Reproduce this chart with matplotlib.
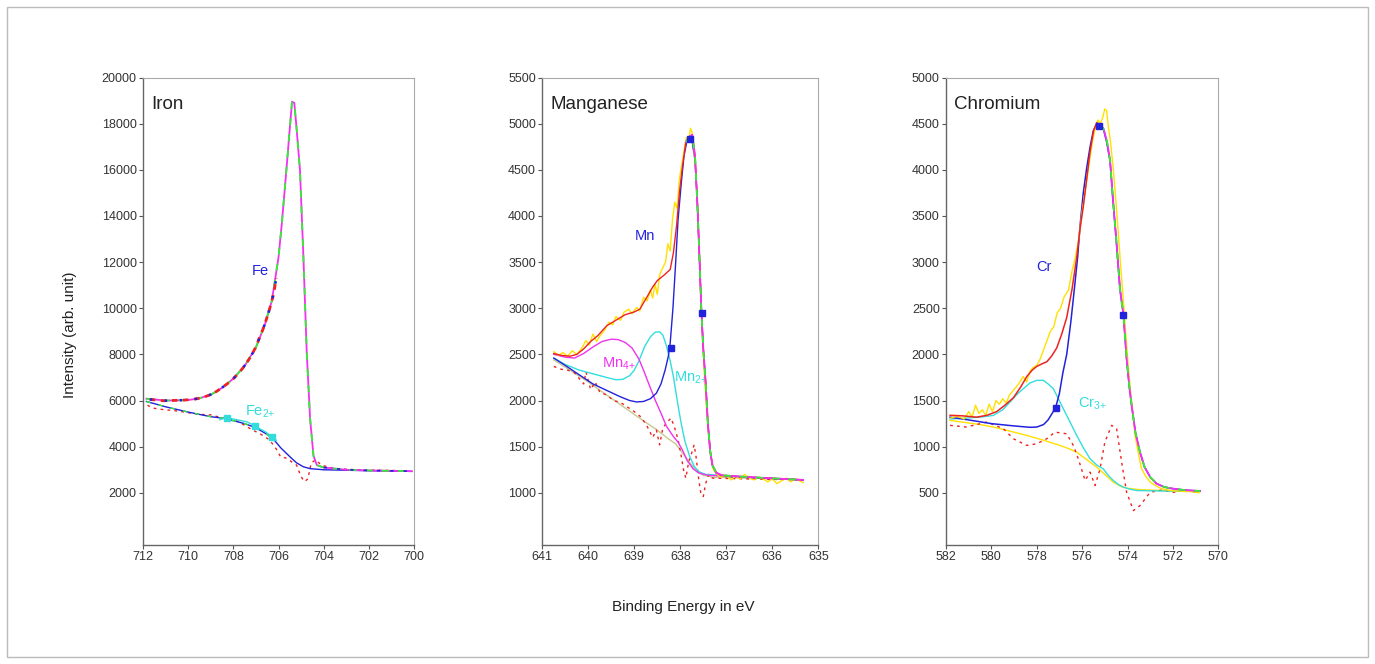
import matplotlib
matplotlib.use('Agg')
import matplotlib.pyplot as plt
from matplotlib.patches import Rectangle

plt.rcParams['font.family'] = ['Liberation Sans', 'DejaVu Sans']

C_MAG = '#ee33ee'
C_GREEN = '#33ee33'
C_BLUE = '#2222dd'
C_CYAN = '#33dddd'
C_YEL = '#ffe000'
C_RED = '#ee2222'
C_BG = '#c8c890'

# ---------------- Iron ----------------
fe_env_x = [711.85, 711.0, 710.0, 709.5, 709.0, 708.5, 708.0, 707.5, 707.0, 706.6, 706.3, 706.0,
            705.85, 705.65, 705.5, 705.4, 705.3, 705.2, 705.05, 704.9, 704.75, 704.6, 704.45,
            704.3, 704.0, 703.0, 702.0, 700.1]
fe_env_y = [6080, 6000, 6020, 6100, 6250, 6550, 6950, 7500, 8300, 9300, 10300, 12200,
            13700, 16000, 17800, 18950, 18900, 17800, 16000, 12300, 8100, 5200, 3600,
            3200, 3100, 3000, 2970, 2940]

fe_bg_x = [711.85, 711.0, 710.0, 709.0, 708.4, 707.5, 707.0, 706.5, 706.2, 705.9, 705.5,
           705.2, 704.9, 704.6, 704.0, 702.0, 700.1]
fe_bg_y = [5960, 5730, 5500, 5300, 5230, 5000, 4820, 4530, 4300, 3950, 3570,
           3300, 3130, 3050, 3000, 2960, 2930]

fe2_x = [708.6, 708.3, 707.9, 707.4, 707.04, 706.8, 706.6, 706.3, 706.1]
fe2_y = [5170, 5260, 5180, 5080, 4900, 4760, 4660, 4440, 4280]
fe2_mark_x = [708.3, 707.04, 706.3]
fe2_mark_y = [5240, 4880, 4440]

fe_res_x = [711.8, 711.6, 711.2, 710.5, 709.5, 709.0, 708.5, 707.8, 707.2, 706.8, 706.4,
            706.1, 705.9, 705.7, 705.5, 705.2, 705.0, 704.85, 704.7, 704.55, 704.35,
            704.1, 703.5, 702.5, 701.5, 700.5]
fe_res_y = [5800, 5680, 5620, 5550, 5400, 5380, 5250, 5100, 4750, 4550, 4300,
            3900, 3550, 3520, 3400, 3200, 2700, 2490, 2600, 3300, 3430,
            3200, 3050, 3000, 2980, 2960]

fe_dat_x = [711.7, 711.4, 711.1, 710.8, 710.5, 710.2, 709.9, 709.6, 709.3, 709.0, 708.75,
            708.5, 708.25, 708.0, 707.8, 707.6, 707.4, 707.2, 707.0, 706.85, 706.7,
            706.55, 706.4, 706.3, 706.2, 706.1]
fe_dat_y = [6050, 6020, 5990, 6000, 6010, 6020, 6040, 6080, 6150, 6260, 6390,
            6560, 6740, 6950, 7150, 7380, 7650, 7950, 8330, 8700, 9060,
            9480, 9950, 10300, 10700, 11300]

# ---------------- Manganese ----------------
mn_yel_x = [640.75, 640.65, 640.55, 640.45, 640.35, 640.25, 640.15, 640.05, 639.98, 639.9,
            639.82, 639.75, 639.65, 639.55, 639.47, 639.4, 639.3, 639.22, 639.12, 639.05,
            638.95, 638.88, 638.8, 638.72, 638.65, 638.6, 638.55, 638.5, 638.45, 638.4,
            638.32, 638.27, 638.22, 638.17, 638.12, 638.07, 638.02, 637.97, 637.92, 637.87,
            637.82, 637.78, 637.74, 637.7, 637.66, 637.62, 637.58, 637.54, 637.5, 637.46,
            637.42, 637.38, 637.34, 637.28, 637.2, 637.12, 637.0, 636.9, 636.8, 636.7,
            636.6, 636.5, 636.4, 636.3, 636.2, 636.1, 636.0, 635.9, 635.8, 635.7,
            635.6, 635.5, 635.4, 635.33]
mn_yel_y = [2530, 2490, 2520, 2480, 2540, 2500, 2560, 2650, 2600, 2720,
            2640, 2700, 2760, 2850, 2820, 2910, 2870, 2960, 2990, 2940,
            3010, 2970, 3120, 3080, 3200, 3110, 3260, 3150, 3360, 3420,
            3500, 3700, 3620, 3960, 4150, 4080, 4400, 4550, 4700, 4850,
            4800, 4950, 4900, 4700, 4450, 4050, 3500, 2950, 2500, 2150,
            1850, 1600, 1400, 1250, 1200, 1170, 1190, 1140, 1180, 1150,
            1200, 1160, 1140, 1170, 1150, 1120, 1150, 1100, 1130, 1160,
            1120, 1150, 1130, 1110]

mn_env_x = [640.75, 640.6, 640.4, 640.25, 640.1, 639.95, 639.8, 639.6, 639.4, 639.2, 639.0,
            638.88, 638.75, 638.6, 638.5, 638.35, 638.22, 638.15, 638.08, 638.02, 637.95,
            637.88, 637.8, 637.74, 637.68, 637.63, 637.58, 637.54, 637.5, 637.45, 637.4,
            637.35, 637.3, 637.22, 637.1, 636.5, 635.33]
mn_env_y = [2510, 2490, 2480, 2500, 2560, 2640, 2700, 2810, 2870, 2930, 2960,
            2990, 3100, 3230, 3300, 3360, 3420, 3600, 3900, 4250, 4550,
            4800, 4860, 4880, 4650, 4150, 3500, 2950, 2560, 2200, 1750,
            1450, 1300, 1220, 1190, 1170, 1140]

mn_x = [640.75, 640.5, 640.2, 639.9, 639.6, 639.3, 639.1, 638.95, 638.8, 638.65, 638.52,
        638.42, 638.33, 638.26, 638.22, 638.16, 638.1, 638.05, 637.98, 637.92, 637.86,
        637.8, 637.74, 637.68, 637.63, 637.58, 637.54, 637.5, 637.45, 637.4, 637.35,
        637.3, 637.22, 637.1, 636.5, 635.33]
mn_y = [2460, 2380, 2280, 2180, 2110, 2040, 2000, 1985, 1990, 2020, 2080,
        2180, 2330, 2480, 2620, 3000, 3500, 3950, 4350, 4650, 4800,
        4840, 4800, 4600, 4150, 3500, 2950, 2560, 2200, 1750, 1450,
        1290, 1210, 1180, 1165, 1140]
mn_mark_x = [638.2, 637.8, 637.52]
mn_mark_y = [2570, 4830, 2950]

mn4_x = [640.75, 640.5, 640.3, 640.1, 639.9, 639.7, 639.5, 639.35, 639.2, 639.05, 638.9,
         638.8, 638.7, 638.55, 638.4, 638.3, 638.15, 638.05, 637.95, 637.85, 637.72,
         637.6, 637.4, 636.5, 635.33]
mn4_y = [2500, 2470, 2460, 2510, 2580, 2640, 2665, 2660, 2630, 2570, 2450,
         2330, 2200, 2010, 1840, 1720, 1610, 1550, 1460, 1350, 1260,
         1215, 1190, 1170, 1140]

mn2_x = [640.75, 640.5, 640.2, 639.9, 639.6, 639.4, 639.25, 639.1, 639.0, 638.9, 638.77,
         638.65, 638.55, 638.45, 638.38, 638.3, 638.22, 638.15, 638.05, 637.98, 637.9,
         637.8, 637.7, 637.6, 637.45, 636.5, 635.33]
mn2_y = [2460, 2390, 2330, 2290, 2250, 2225, 2230, 2270, 2330, 2430, 2590,
         2690, 2740, 2745, 2710, 2590, 2430, 2260, 1950, 1750, 1560,
         1400, 1290, 1230, 1200, 1170, 1140]

mn_bg_x = [640.75, 640.4, 640.0, 639.6, 639.2, 638.8, 638.5, 638.3, 638.1, 637.95, 637.8,
           637.65, 637.5, 637.3, 636.5, 635.33]
mn_bg_y = [2440, 2330, 2200, 2060, 1920, 1780, 1680, 1600, 1530, 1430, 1330,
           1240, 1190, 1170, 1160, 1140]

mn_res_x = [640.75, 640.6, 640.45, 640.3, 640.2, 640.1, 640.05, 639.95, 639.85, 639.75,
            639.6, 639.45, 639.3, 639.15, 639.0, 638.85, 638.72, 638.6, 638.52, 638.45,
            638.38, 638.3, 638.2, 638.12, 638.05, 637.98, 637.93, 637.88, 637.82, 637.76,
            637.7, 637.66, 637.6, 637.55, 637.5, 637.45, 637.38, 637.3, 636.5, 635.33]
mn_res_y = [2370, 2340, 2330, 2300, 2240, 2180, 2310, 2120, 2200, 2090,
            2060, 2000, 1980, 1930, 1880, 1820, 1720, 1600, 1680, 1520,
            1700, 1760, 1810, 1700, 1580, 1400, 1250, 1160, 1330, 1420,
            1520, 1400, 1150, 980, 960, 1100, 1200, 1160, 1150, 1140]

# ---------------- Chromium ----------------
cr_yel_x = [581.8, 581.5, 581.2, 581.0, 580.85, 580.7, 580.55, 580.4, 580.25, 580.1,
            579.95, 579.8, 579.65, 579.5, 579.35, 579.2, 579.0, 578.8, 578.6, 578.45,
            578.3, 578.15, 578.0, 577.85, 577.7, 577.55, 577.4, 577.25, 577.1, 576.95,
            576.8, 576.6, 576.45, 576.3, 576.15, 576.0, 575.85, 575.7, 575.55, 575.4,
            575.3, 575.2, 575.1, 575.0, 574.92, 574.85, 574.75, 574.63, 574.5, 574.4,
            574.3, 574.18, 574.07, 573.96, 573.85, 573.75, 573.67, 573.5, 573.38, 573.2,
            573.0, 572.7, 572.5, 572.3, 572.1, 571.9, 571.7, 571.5, 571.3,
            571.1, 570.85]
cr_yel_y = [1310, 1330, 1300, 1380, 1320, 1450, 1360, 1400, 1340, 1460,
            1380, 1500, 1460, 1520, 1470, 1560, 1620, 1680, 1760, 1700,
            1820, 1860, 1880, 1950, 2050, 2150, 2250, 2300, 2450, 2500,
            2620, 2700, 2900, 3050, 3250, 3550, 3800, 4050, 4300, 4480,
            4540, 4500, 4560, 4660, 4640, 4480, 4300, 4017, 3620, 3293,
            2950, 2570, 2200, 1846, 1550, 1330, 1122, 900, 760, 680,
            616, 570, 545, 535, 525, 520, 520, 515, 515,
            510, 500]

cr_env_x = [581.82, 581.3, 580.65, 580.2, 579.77, 579.4, 579.03, 578.7, 578.44, 578.2,
            578.0, 577.75, 577.56, 577.35, 577.12, 576.9, 576.68, 576.45, 576.24, 576.1,
            575.95, 575.8, 575.65, 575.5, 575.36, 575.21, 575.05, 574.9, 574.77, 574.65,
            574.5, 574.33, 574.18, 574.04, 573.92, 573.82, 573.65, 573.45, 573.25, 573.0,
            572.72, 572.4, 572.13, 571.5, 570.81]
cr_env_y = [1340, 1335, 1320, 1340, 1380, 1450, 1530, 1650, 1760, 1830,
            1870, 1900, 1920, 1980, 2070, 2220, 2400, 2700, 3050, 3350,
            3600, 3900, 4200, 4420, 4510, 4490, 4440, 4300, 4100, 3700,
            3250, 2700, 2430, 1950, 1650, 1450, 1150, 940, 780, 670,
            600, 565, 550, 530, 520]

cr_x = [581.82, 581.0, 580.0, 579.0, 578.3, 578.0, 577.7, 577.5, 577.3, 577.15, 577.0,
        576.85, 576.68, 576.5, 576.39, 576.2, 576.09, 575.95, 575.8, 575.65, 575.51,
        575.36, 575.22, 575.07, 574.92, 574.77, 574.65, 574.5, 574.33, 574.18, 574.04,
        573.92, 573.82, 573.65, 573.45, 573.25, 573.0, 572.72, 572.4, 572.13, 571.5,
        570.81]
cr_y = [1320, 1290, 1250, 1225, 1210, 1213, 1240, 1290, 1370, 1440, 1580,
        1800, 2000, 2350, 2600, 3050, 3400, 3750, 4020, 4250, 4420,
        4500, 4490, 4450, 4300, 4100, 3700, 3250, 2700, 2430, 1950,
        1650, 1450, 1150, 940, 780, 670, 600, 565, 550, 530,
        520]
cr_mark_x = [577.15, 575.25, 574.18]
cr_mark_y = [1420, 4470, 2430]

cr3_x = [581.82, 580.5, 579.91, 579.5, 579.18, 578.9, 578.59, 578.3, 578.0, 577.71, 577.5,
         577.27, 577.05, 576.83, 576.5, 576.24, 575.95, 575.65, 575.35, 575.07, 574.85,
         574.63, 574.4, 574.18, 573.9, 573.6, 572.5, 570.81]
cr3_y = [1300, 1320, 1339, 1400, 1484, 1560, 1629, 1690, 1719, 1719, 1680,
         1629, 1520, 1412, 1250, 1122, 990, 869, 800, 760, 690,
         634, 590, 562, 540, 525, 520, 515]

cr_bg_x = [581.82, 580.5, 579.91, 579.2, 578.44, 577.7, 576.98, 576.6, 576.24, 575.8,
           575.36, 575.0, 574.63, 574.3, 574.04, 573.5, 572.5, 570.81]
cr_bg_y = [1285, 1240, 1213, 1170, 1122, 1070, 1014, 980, 941, 860,
           779, 700, 616, 570, 551, 535, 525, 515]

cr_res_x = [581.82, 581.1, 580.2, 579.47, 579.03, 578.44, 578.0, 577.56, 577.2, 576.68,
            576.39, 576.17, 575.87, 575.65, 575.43, 575.21, 575.0, 574.7, 574.48, 574.26,
            574.04, 573.74, 573.45, 573.0, 572.5, 572.0, 571.5, 570.81]
cr_res_y = [1231, 1213, 1267, 1195, 1086, 1014, 1032, 1086, 1158, 1140,
            1014, 869, 634, 724, 580, 760, 1050, 1231, 1195, 833,
            507, 308, 362, 507, 530, 505, 525, 500]

AX_POS = {
    'fe': [143 / 1375, 119 / 664, 271 / 1375, 467.5 / 664],
    'mn': [542.3 / 1375, 119 / 664, 276 / 1375, 467.5 / 664],
    'cr': [946 / 1375, 119 / 664, 272.3 / 1375, 467.5 / 664],
}


def style_axes(ax, xlim, ylim, xticks, yticks, title):
    ax.set_xlim(*xlim)
    ax.set_ylim(*ylim)
    ax.set_xticks(xticks)
    ax.set_xticklabels([str(t) for t in xticks])
    ax.set_yticks(yticks)
    ax.set_yticklabels([str(t) for t in yticks])
    ax.tick_params(direction='out', length=3, width=0.8, color='#555555',
                   labelsize=9, labelcolor='#333333', pad=1.5)
    for side in ('left', 'bottom'):
        ax.spines[side].set_color('#666666')
        ax.spines[side].set_linewidth(1.0)
    for side in ('top', 'right'):
        ax.spines[side].set_color('#aaaaaa')
        ax.spines[side].set_linewidth(0.8)
    ax.text(0.03, 0.96, title, transform=ax.transAxes, ha='left', va='top',
            fontsize=13.5, color='#222222')


def envelope(ax, x, y, zorder=4):
    # fitted envelope: magenta line with green dashes on top
    ax.plot(x, y, color=C_MAG, lw=1.3, zorder=zorder)
    ax.plot(x, y, color=C_GREEN, lw=1.3, dashes=(4, 5), zorder=zorder + 0.1)


def ion_label(ax, x, y, elem, charge, color):
    ax.text(x, y, elem + r'$_{\mathregular{' + charge + '}}$', color=color,
            fontsize=10.5, ha='left', va='center')


fig = plt.figure(figsize=(13.75, 6.64), dpi=100)
fig.patches.append(Rectangle((7 / 1375, 7 / 664), 1361 / 1375, 650 / 664,
                             transform=fig.transFigure, fill=False,
                             edgecolor='#bbbbbb', lw=1.0))

# Iron
ax = fig.add_axes(AX_POS['fe'])
style_axes(ax, (712, 700), (-260, 20000), [712, 710, 708, 706, 704, 702, 700],
           list(range(2000, 20001, 2000)), 'Iron')
ax.plot(fe_bg_x, fe_bg_y, color=C_BLUE, lw=1.0, zorder=3)
ax.plot(fe_bg_x[:9], fe_bg_y[:9], color=C_GREEN, lw=1.0, dashes=(3, 6), zorder=3.1)
ax.plot(fe_res_x, fe_res_y, color=C_RED, lw=1.0, ls=(0, (2, 3)), zorder=2.5)
ax.plot(fe2_x, fe2_y, color=C_CYAN, lw=1.0, zorder=3.5)
ax.plot(fe2_mark_x, fe2_mark_y, ls='none', marker='s', ms=5, color=C_CYAN, zorder=5)
envelope(ax, fe_env_x, fe_env_y)
ax.plot(fe_dat_x, fe_dat_y, color=C_RED, lw=2.0, dashes=(2, 2), zorder=5)
ax.plot(fe_dat_x, fe_dat_y, color=C_BLUE, lw=1.8, dashes=(1, 5), zorder=5.1)
ax.plot(fe_env_x[-4:], fe_env_y[-4:], color=C_BLUE, lw=1.2, dashes=(2, 6), zorder=5)
ax.text(706.8, 11620, 'Fe', color=C_BLUE, fontsize=10.5, ha='center', va='center')
ion_label(ax, 707.48, 5500, 'Fe', '2{+}', C_CYAN)

# Manganese
ax = fig.add_axes(AX_POS['mn'])
style_axes(ax, (641, 635), (435, 5500), [641, 640, 639, 638, 637, 636, 635],
           list(range(1000, 5501, 500)), 'Manganese')
ax.plot(mn_bg_x, mn_bg_y, color=C_BG, lw=1.0, zorder=2)
ax.plot(mn_res_x, mn_res_y, color=C_RED, lw=1.0, ls=(0, (2, 3)), zorder=2.5)
ax.plot(mn2_x, mn2_y, color=C_CYAN, lw=1.0, zorder=3)
ax.plot(mn4_x, mn4_y, color=C_MAG, lw=1.0, zorder=3)
ax.plot(mn_x, mn_y, color=C_BLUE, lw=1.0, zorder=3.2)
ax.plot(mn_yel_x, mn_yel_y, color=C_YEL, lw=1.0, zorder=3.5)
ax.plot(mn_env_x, mn_env_y, color=C_RED, lw=1.0, zorder=3.6)
envelope(ax, mn_env_x[21:], mn_env_y[21:])
ax.plot(mn_mark_x, mn_mark_y, ls='none', marker='s', ms=5, color=C_BLUE, zorder=6)
ax.text(638.77, 3780, 'Mn', color=C_BLUE, fontsize=10.5, ha='center', va='center')
ion_label(ax, 639.7, 2400, 'Mn', '4{+}', C_MAG)
ion_label(ax, 638.14, 2245, 'Mn', '2{+}', C_CYAN)

# Chromium
ax = fig.add_axes(AX_POS['cr'])
style_axes(ax, (582, 570), (-65, 5000), [582, 580, 578, 576, 574, 572, 570],
           list(range(500, 5001, 500)), 'Chromium')
ax.plot(cr_bg_x, cr_bg_y, color=C_YEL, lw=1.0, zorder=2)
ax.plot(cr_res_x, cr_res_y, color=C_RED, lw=1.0, ls=(0, (2, 3)), zorder=2.5)
ax.plot(cr3_x, cr3_y, color=C_CYAN, lw=1.0, zorder=3)
ax.plot(cr_x, cr_y, color=C_BLUE, lw=1.1, zorder=3.2)
ax.plot(cr_yel_x, cr_yel_y, color=C_YEL, lw=1.0, zorder=3.5)
ax.plot(cr_env_x[:26], cr_env_y[:26], color=C_RED, lw=1.1, zorder=3.6)
envelope(ax, cr_env_x[25:], cr_env_y[25:])
ax.plot(cr_mark_x, cr_mark_y, ls='none', marker='s', ms=5, color=C_BLUE, zorder=6)
ax.text(577.68, 2950, 'Cr', color=C_BLUE, fontsize=10.5, ha='center', va='center')
ion_label(ax, 576.18, 1466, 'Cr', '3{+}', C_CYAN)

fig.text(70 / 1375, 1 - 335 / 664, 'Intensity (arb. unit)', rotation=90,
         ha='center', va='center', fontsize=11, color='#222222')
fig.text(683 / 1375, 1 - 607 / 664, 'Binding Energy in eV',
         ha='center', va='center', fontsize=11, color='#222222')

fig.savefig('out.png', dpi=100, facecolor='white')
